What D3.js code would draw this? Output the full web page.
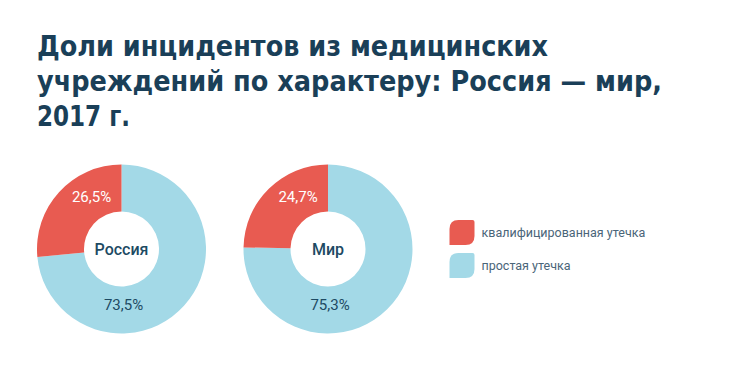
<!DOCTYPE html>
<html>
<head>
<meta charset="utf-8">
<script src="https://cdn.jsdelivr.net/npm/d3@7"></script>
<style>
  body { margin: 0; background: #fff; }
</style>
</head>
<body>
<svg id="chart"></svg>
<script>
// Data
const titleLines = ["Доли инцидентов из медицинских", "учреждений по характеру: Россия — мир,", "2017 г."];
const regions = ["Россия", "Мир"];
const categories = ["квалифицированная утечка", "простая утечка"];
const qualified = [26.5, 24.7];
const simple = [73.5, 75.3];

const width = 731, height = 371;
const svg = d3.select("#chart")
    .attr("width", width)
    .attr("height", height);

const colors = d3.scaleOrdinal()
    .domain(categories)
    .range(["#e85b51", "#a3d9e7"]);

// Title
const titleWidths = [511, 625, 93];
svg.append("g")
    .selectAll("text")
    .data(titleLines)
    .join("text")
    .attr("x", 37)
    .attr("y", (d, i) => 56 + i * 35)
    .attr("textLength", (d, i) => titleWidths[i])
    .attr("lengthAdjust", "spacingAndGlyphs")
    .attr("font-family", "'Liberation Sans Narrow', 'DejaVu Sans Condensed', sans-serif")
    .attr("font-weight", "bold")
    .attr("font-size", "29px")
    .attr("fill", "#1a3f58")
    .text(d => d);

// Donuts
const centers = d3.scalePoint().domain(regions).range([121.5, 328]);
const outerR = 84.5, innerR = 37.5;
const arc = d3.arc().innerRadius(innerR).outerRadius(outerR);
// blue first so red ends at 12 o'clock
const pie = d3.pie().sort(null).value(d => d.value);
const fmt = v => d3.format(".1f")(v).replace(".", ",") + "%";

regions.forEach((region, i) => {
    const g = svg.append("g")
        .attr("transform", `translate(${centers(region)},249)`);

    const slices = pie([
        {cat: categories[1], value: simple[i]},
        {cat: categories[0], value: qualified[i]}
    ]);

    g.selectAll("path")
        .data(slices)
        .join("path")
        .attr("d", arc)
        .attr("fill", d => colors(d.data.cat));

    // value labels
    g.append("text")
        .attr("x", -30)
        .attr("y", -47)
        .attr("text-anchor", "middle")
        .attr("font-family", "Roboto, sans-serif")
        .attr("font-size", "15px")
        .attr("fill", "#ffffff")
        .text(fmt(qualified[i]));
    g.append("text")
        .attr("x", 2)
        .attr("y", 61)
        .attr("text-anchor", "middle")
        .attr("font-family", "Roboto, sans-serif")
        .attr("font-size", "15px")
        .attr("fill", "#1d4a63")
        .text(fmt(simple[i]));

    // centre label
    g.append("text")
        .attr("x", 0)
        .attr("y", 6)
        .attr("text-anchor", "middle")
        .attr("font-family", "Roboto, sans-serif")
        .attr("font-weight", "500")
        .attr("font-size", "16px")
        .attr("fill", "#1d4a63")
        .text(region);
});

// Legend
const legend = svg.append("g")
    .attr("transform", "translate(449.5,220)");

const leaf = (s, r) => `M${r},0 H${s - 2} Q${s},0 ${s},2 V${s - r} Q${s},${s} ${s - r},${s} H0 V${r} Q0,0 ${r},0 Z`;

categories.forEach((cat, i) => {
    legend.append("path")
        .attr("transform", `translate(0,${i * 33})`)
        .attr("d", leaf(25, 9))
        .attr("fill", colors(cat));

    legend.append("text")
        .attr("x", 32)
        .attr("y", i * 33 + 16.5)
        .attr("font-family", "Roboto, sans-serif")
        .attr("font-size", "12.5px")
        .attr("fill", "#4a6579")
        .text(cat);
});
</script>
</body>
</html>
